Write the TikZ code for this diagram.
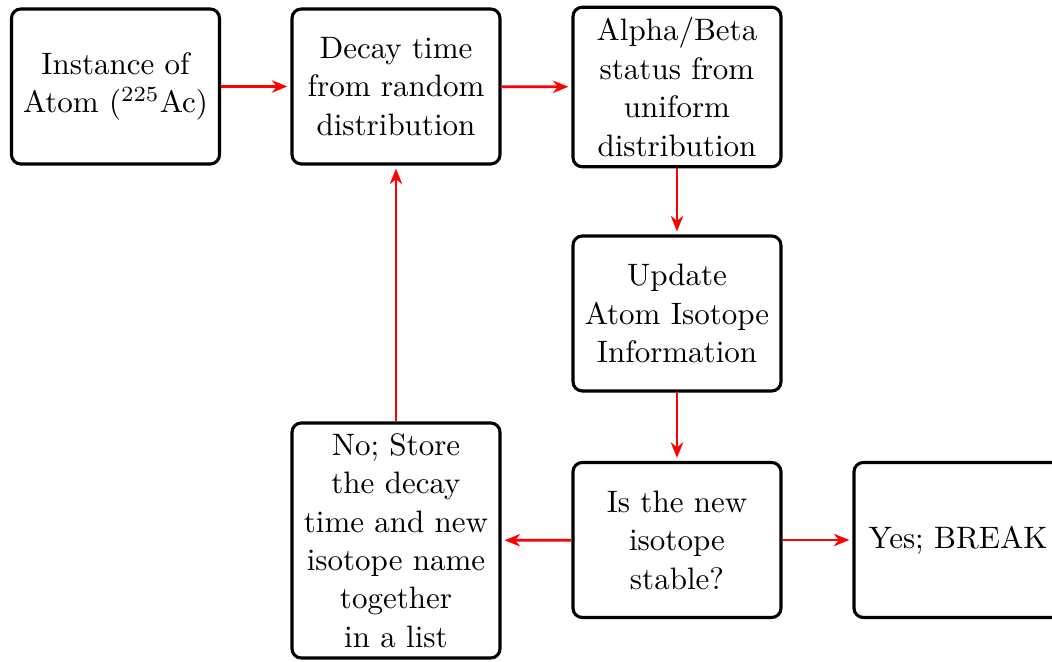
\documentclass[tikz,border=0pt]{standalone}
\usetikzlibrary{arrows.meta}
\begin{document}
\begin{tikzpicture}[x=0.3226pt,y=-0.3226pt,
  box/.style={draw=black,line width=1pt,rounded corners=3pt,fill=white,
    minimum width=67.1pt,minimum height=50pt,align=center,inner sep=3.33pt,
    font=\fontsize{10}{12.4}\selectfont},
  link/.style={draw=red,line width=0.9pt,-{Stealth[length=5pt,width=4pt]},shorten >=1pt}]
\useasboundingbox (0,0) rectangle (1052,662);
\node[box] (atom) at (115.5,86.5) {Instance of\\Atom ($^{225}$Ac)};
\node[box] (decay) at (396,86.5) {Decay time\\from random\\distribution};
\node[box] (ab) at (677,87) {Alpha/Beta\\status from\\uniform\\distribution};
\node[box] (upd) at (677,313.5) {Update\\Atom Isotope\\Information};
\node[box] (stable) at (677,540) {Is the new\\isotope\\stable?};
\node[box] (yes) at (958,540) {Yes; BREAK};
\node[box] (no) at (396,540.5) {No; Store\\the decay\\time and new\\isotope name\\together\\in a list};
\draw[link] (atom) -- (decay);
\draw[link] (decay) -- (ab);
\draw[link] (ab) -- (upd);
\draw[link] (upd) -- (stable);
\draw[link] (stable) -- (no);
\draw[link] (stable) -- (yes);
\draw[link] (no) -- (decay);
\end{tikzpicture}
\end{document}
